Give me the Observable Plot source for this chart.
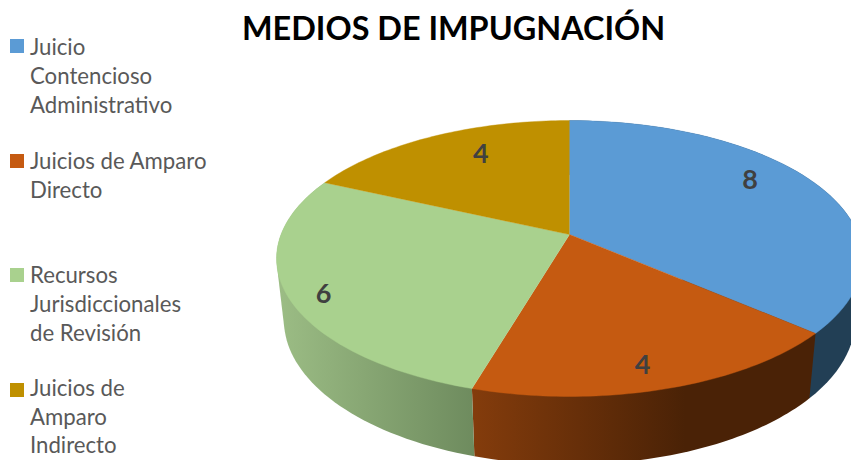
<!DOCTYPE html>
<html lang="es">
<head>
<meta charset="utf-8">
<script src="https://cdn.jsdelivr.net/npm/d3@7"></script>
<script src="https://cdn.jsdelivr.net/npm/@observablehq/plot@0.6"></script>
<style>
  html, body { margin: 0; padding: 0; background: #fff; overflow: hidden; }
  #wrap { position: relative; width: 851px; height: 460px; overflow: hidden; font-variant-ligatures: none; }
  #wrap svg { position: absolute; left: 0; top: 0; }
  #title { position: absolute; left: 242px; top: 8px; white-space: nowrap;
           font: 700 32.4px Lato, sans-serif; color: #000; line-height: 40px; }
  .item { position: absolute; left: 10px; font: 400 22.2px/29px Lato, sans-serif; color: #595959; }
  .item i { position: absolute; left: 0; width: 14px; height: 14px; }
  .item span { display: block; margin-left: 20px; white-space: pre; }
</style>
</head>
<body>
<div id="wrap"></div>
<script>
const titleText = "MEDIOS DE IMPUGNACIÓN";
const categories = ["Juicio Contencioso Administrativo", "Juicios de Amparo Directo", "Recursos Jurisdiccionales de Revisión", "Juicios de Amparo Indirecto"];
const legendLines = [["Juicio", "Contencioso", "Administrativo"], ["Juicios de Amparo", "Directo"], ["Recursos", "Jurisdiccionales", "de Revisión"], ["Juicios de", "Amparo", "Indirecto"]];
const legendTops = [32, 147, 260, 374];
const legendLeading = [29, 28.5, 29, 28.5];
const swatchTops = [39, 154, 268, 383];
const values = [8, 4, 6, 4];
const colors = ["#5B9BD5", "#C55A11", "#A9D18E", "#BF9000"];
const wallStops = [
  [[0, "#223F55"], [1, "#223F55"]],
  [[0, "#843C0C"], [0.62, "#4A2206"], [1, "#4A2206"]],
  [[0, "#9CBD85"], [1, "#6E8B5E"]],
  null
];
const labelNudge = [[-18, -12], [-2, 12], [-23, 13], [23, 0]];

// Projection of the tilted disc, in units of the plot's x/y scales (origin: the pie's apex)
const halfWidth = 288.5, halfDepth = 133.8, perspective = 0.174;
const wallScaleX = 0.975, wallScaleY = 1.05, wallDrop = 60;
const project = (angle, r = 1) => {
  const u = r * Math.sin(angle), v = -r * Math.cos(angle), d = 1 - perspective * v;
  return {x: halfWidth * u / d, y: halfDepth * v / d};
};
const lower = (p) => ({x: p.x * wallScaleX, y: p.y * wallScaleY + wallDrop});

const total = d3.sum(values);
const ends = d3.cumsum(values);
const slices = values.map((v, i) => ({
  i, value: v, color: colors[i],
  a0: (ends[i] - v) / total * 2 * Math.PI,
  a1: ends[i] / total * 2 * Math.PI
}));
const arcOf = (s) => d3.range(0, 61).map((k) => project(s.a0 + (s.a1 - s.a0) * k / 60));

const defs = () => {
  const el = d3.create("svg:defs");
  wallStops.forEach((stops, i) => {
    if (!stops) return;
    const g = el.append("linearGradient").attr("id", "wall" + i);
    stops.forEach(([o, c]) => g.append("stop").attr("offset", o).attr("stop-color", c));
  });
  return el.node();
};

const wallMarks = slices.filter((s) => wallStops[s.i]).map((s) => {
  const pts = arcOf(s);
  const hull = d3.polygonHull(pts.concat(pts.map(lower)).map((p) => [p.x, p.y]));
  return Plot.line(hull, {x: (d) => d[0], y: (d) => d[1], fill: `url(#wall${s.i})`, stroke: "none", curve: "linear"});
});
const faceMarks = slices.map((s) =>
  Plot.line([{x: 0, y: 0}, ...arcOf(s)], {x: "x", y: "y", fill: s.color, stroke: s.color, strokeWidth: 0.4, curve: "linear"})
);
const labelMarks = slices.map((s) => {
  const p = project((s.a0 + s.a1) / 2, 0.8);
  return Plot.text([{...p, value: s.value}], {
    x: "x", y: "y", text: (d) => String(d.value),
    dx: labelNudge[s.i][0], dy: labelNudge[s.i][1],
    fontFamily: "Lato, sans-serif", fontWeight: 700, fontSize: 27, fill: "#404040"
  });
});

const chart = Plot.plot({
  width: 851, height: 460,
  marginTop: 0, marginRight: 0, marginBottom: 0, marginLeft: 0,
  x: {domain: [-569, 282], range: [0, 851], axis: null},
  y: {domain: [-234, 226], range: [0, 460], axis: null},
  style: {background: "#fff", overflow: "hidden"},
  marks: [defs, ...wallMarks, ...faceMarks, ...labelMarks]
});

const wrap = document.getElementById("wrap");
wrap.appendChild(chart);

const title = document.createElement("div");
title.id = "title";
title.textContent = titleText;
wrap.appendChild(title);

categories.forEach((name, i) => {
  const item = document.createElement("div");
  item.className = "item";
  item.title = name;
  item.style.top = legendTops[i] + "px";
  item.style.lineHeight = legendLeading[i] + "px";
  const swatch = document.createElement("i");
  swatch.style.background = colors[i];
  swatch.style.top = (swatchTops[i] - legendTops[i]) + "px";
  item.appendChild(swatch);
  legendLines[i].forEach((line) => {
    const span = document.createElement("span");
    span.textContent = line;
    item.appendChild(span);
  });
  wrap.appendChild(item);
});
</script>
</body>
</html>
